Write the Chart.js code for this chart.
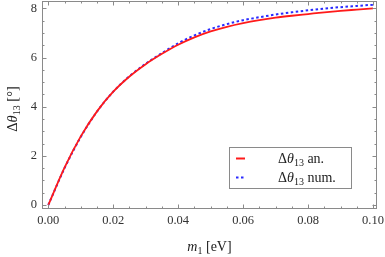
<html>
<head>
<style>
  body { margin: 0; background: #fff; }
  #wrap { width: 385px; height: 257px; }
</style>
</head>
<body>
<div id="wrap"><canvas id="myChart" width="385" height="257"></canvas></div>
<script src="https://cdn.jsdelivr.net/npm/chart.js"></script>
<script>
// m1 values (eV)
var m1 = [0, 0.005, 0.01, 0.015, 0.02, 0.025, 0.03, 0.035, 0.04, 0.045, 0.05,
          0.055, 0.06, 0.065, 0.07, 0.075, 0.08, 0.085, 0.09, 0.095, 0.1];
// analytic
var dthAn = [0, 1.52, 2.79, 3.81, 4.61, 5.23, 5.73, 6.15, 6.52, 6.82, 7.06,
             7.25, 7.40, 7.52, 7.62, 7.70, 7.77, 7.84, 7.90, 7.95, 8.00];
// numerical
var dthNum = [0, 1.50, 2.77, 3.80, 4.61, 5.24, 5.75, 6.18, 6.58, 6.90, 7.16,
              7.36, 7.52, 7.64, 7.75, 7.84, 7.92, 7.99, 8.05, 8.10, 8.15];

var xMajor = [0, 0.02, 0.04, 0.06, 0.08, 0.10];
var xLabels = ["0.00", "0.02", "0.04", "0.06", "0.08", "0.10"];
var xMinorStep = 0.005;
var yMajor = [0, 2, 4, 6, 8];
var yLabels = ["0", "2", "4", "6", "8"];
var yMinorStep = 0.5;

var legendNames = ["an.", "num."];

var serif = "'Liberation Serif', 'DejaVu Serif', serif";

function pts(xs, ys) {
    var out = [];
    for (var i = 0; i < xs.length; i++) out.push({x: xs[i], y: ys[i]});
    return out;
}

// draws "Δθ13 suffix" from x (left) at baseline y; returns width
function drawTheta(ctx, x, y, size, suffix, measureOnly) {
    var w = 0;
    ctx.font = size + "px " + serif;
    if (!measureOnly) ctx.fillText("Δ", x + w, y);
    w += ctx.measureText("Δ").width;
    ctx.font = "italic " + size + "px " + serif;
    if (!measureOnly) ctx.fillText("θ", x + w, y);
    w += ctx.measureText("θ").width;
    ctx.font = Math.round(size * 0.7) + "px " + serif;
    if (!measureOnly) ctx.fillText("13", x + w, y + size * 0.22);
    w += ctx.measureText("13").width;
    ctx.font = size + "px " + serif;
    if (!measureOnly) ctx.fillText(suffix, x + w, y);
    w += ctx.measureText(suffix).width;
    return w;
}

var framePlugin = {
    id: 'frame',
    afterDatasetsDraw: function(chart) {
        var ctx = chart.ctx;
        var xs = chart.scales.x, ys = chart.scales.y;
        var a = chart.chartArea;
        ctx.save();
        ctx.strokeStyle = "#8a8a8a";
        ctx.lineWidth = 1;
        ctx.strokeRect(a.left + 0.5, a.top + 0.5, a.right - a.left - 1, a.bottom - a.top - 1);

        ctx.beginPath();
        // x ticks, bottom and top
        for (var v = 0; v <= 0.1 + 1e-9; v += xMinorStep) {
            var px = Math.round(xs.getPixelForValue(v)) + 0.5;
            var major = Math.abs(v / 0.02 - Math.round(v / 0.02)) < 1e-6;
            var len = major ? 4.5 : 2.5;
            ctx.moveTo(px, a.bottom); ctx.lineTo(px, a.bottom - len);
            ctx.moveTo(px, a.top); ctx.lineTo(px, a.top + len);
        }
        // y ticks, left and right
        for (var u = 0; u <= 8 + 1e-9; u += yMinorStep) {
            var py = Math.round(ys.getPixelForValue(u)) + 0.5;
            var majorY = Math.abs(u / 2 - Math.round(u / 2)) < 1e-6;
            var lenY = majorY ? 4.5 : 2.5;
            ctx.moveTo(a.left, py); ctx.lineTo(a.left + lenY, py);
            ctx.moveTo(a.right, py); ctx.lineTo(a.right - lenY, py);
        }
        ctx.stroke();

        // tick labels
        ctx.fillStyle = "#333";
        ctx.font = "12.5px " + serif;
        ctx.textAlign = "center";
        ctx.textBaseline = "middle";
        for (var i = 0; i < xMajor.length; i++) {
            ctx.fillText(xLabels[i], xs.getPixelForValue(xMajor[i]), a.bottom + 12);
        }
        ctx.textAlign = "right";
        for (var j = 0; j < yMajor.length; j++) {
            ctx.fillText(yLabels[j], a.left - 5, ys.getPixelForValue(yMajor[j]));
        }

        // axis titles
        ctx.textAlign = "left";
        ctx.textBaseline = "alphabetic";
        ctx.fillStyle = "#222";
        ctx.font = "italic 14px " + serif;
        var mw = ctx.measureText("m").width;
        ctx.font = "10px " + serif;
        var sw = ctx.measureText("1").width;
        ctx.font = "14px " + serif;
        var ew = ctx.measureText(" [eV]").width;
        var tx = (a.left + a.right) / 2 - (mw + sw + ew) / 2;
        var ty = 251;
        ctx.font = "italic 14px " + serif;
        ctx.fillText("m", tx, ty);
        ctx.font = "10px " + serif;
        ctx.fillText("1", tx + mw, ty + 3);
        ctx.font = "14px " + serif;
        ctx.fillText(" [eV]", tx + mw + sw, ty);

        ctx.save();
        ctx.translate(17, 109);
        ctx.rotate(-Math.PI / 2);
        var yw = drawTheta(ctx, 0, 0, 14.5, " [°]", true);
        drawTheta(ctx, -yw / 2, 0, 14.5, " [°]", false);
        ctx.restore();

        // legend
        var bx = 229.5, by = 147.5, bw = 122, bh = 41;
        ctx.fillStyle = "#fff";
        ctx.fillRect(bx, by, bw, bh);
        ctx.strokeStyle = "#8a8a8a";
        ctx.strokeRect(bx, by, bw, bh);
        for (var k = 0; k < chart.data.datasets.length; k++) {
            var ds = chart.data.datasets[k];
            var ly = by + 11 + k * 19;
            ctx.strokeStyle = ds.borderColor;
            ctx.lineWidth = 2;
            ctx.setLineDash(ds.borderDash || []);
            ctx.beginPath();
            ctx.moveTo(236, ly); ctx.lineTo(245, ly);
            ctx.stroke();
            ctx.setLineDash([]);
            ctx.fillStyle = "#222";
            drawTheta(ctx, 278, ly + 4.5, 14, " " + legendNames[k], false);
        }
        ctx.restore();
    }
};

var ctx = document.getElementById("myChart").getContext("2d");
var myChart = new Chart(ctx, {
    type: 'line',
    data: {
        datasets: [
            {
                label: "an.",
                data: pts(m1, dthAn),
                borderColor: "#ff1a1a",
                borderWidth: 1.8,
                pointRadius: 0,
                fill: false,
                cubicInterpolationMode: 'monotone'
            },
            {
                label: "num.",
                data: pts(m1, dthNum),
                borderColor: "#2a2aff",
                borderWidth: 2,
                borderDash: [2.5, 2.5],
                pointRadius: 0,
                fill: false,
                cubicInterpolationMode: 'monotone'
            }
        ]
    },
    options: {
        responsive: false,
        animation: false,
        layout: { padding: { left: 42, right: 8, top: 1, bottom: 48 } },
        plugins: { legend: { display: false }, tooltip: { enabled: false } },
        scales: {
            x: { type: 'linear', min: -0.00194, max: 0.10123, display: false },
            y: { type: 'linear', min: -0.163, max: 8.30, display: false }
        }
    },
    plugins: [framePlugin]
});
</script>
</body>
</html>
